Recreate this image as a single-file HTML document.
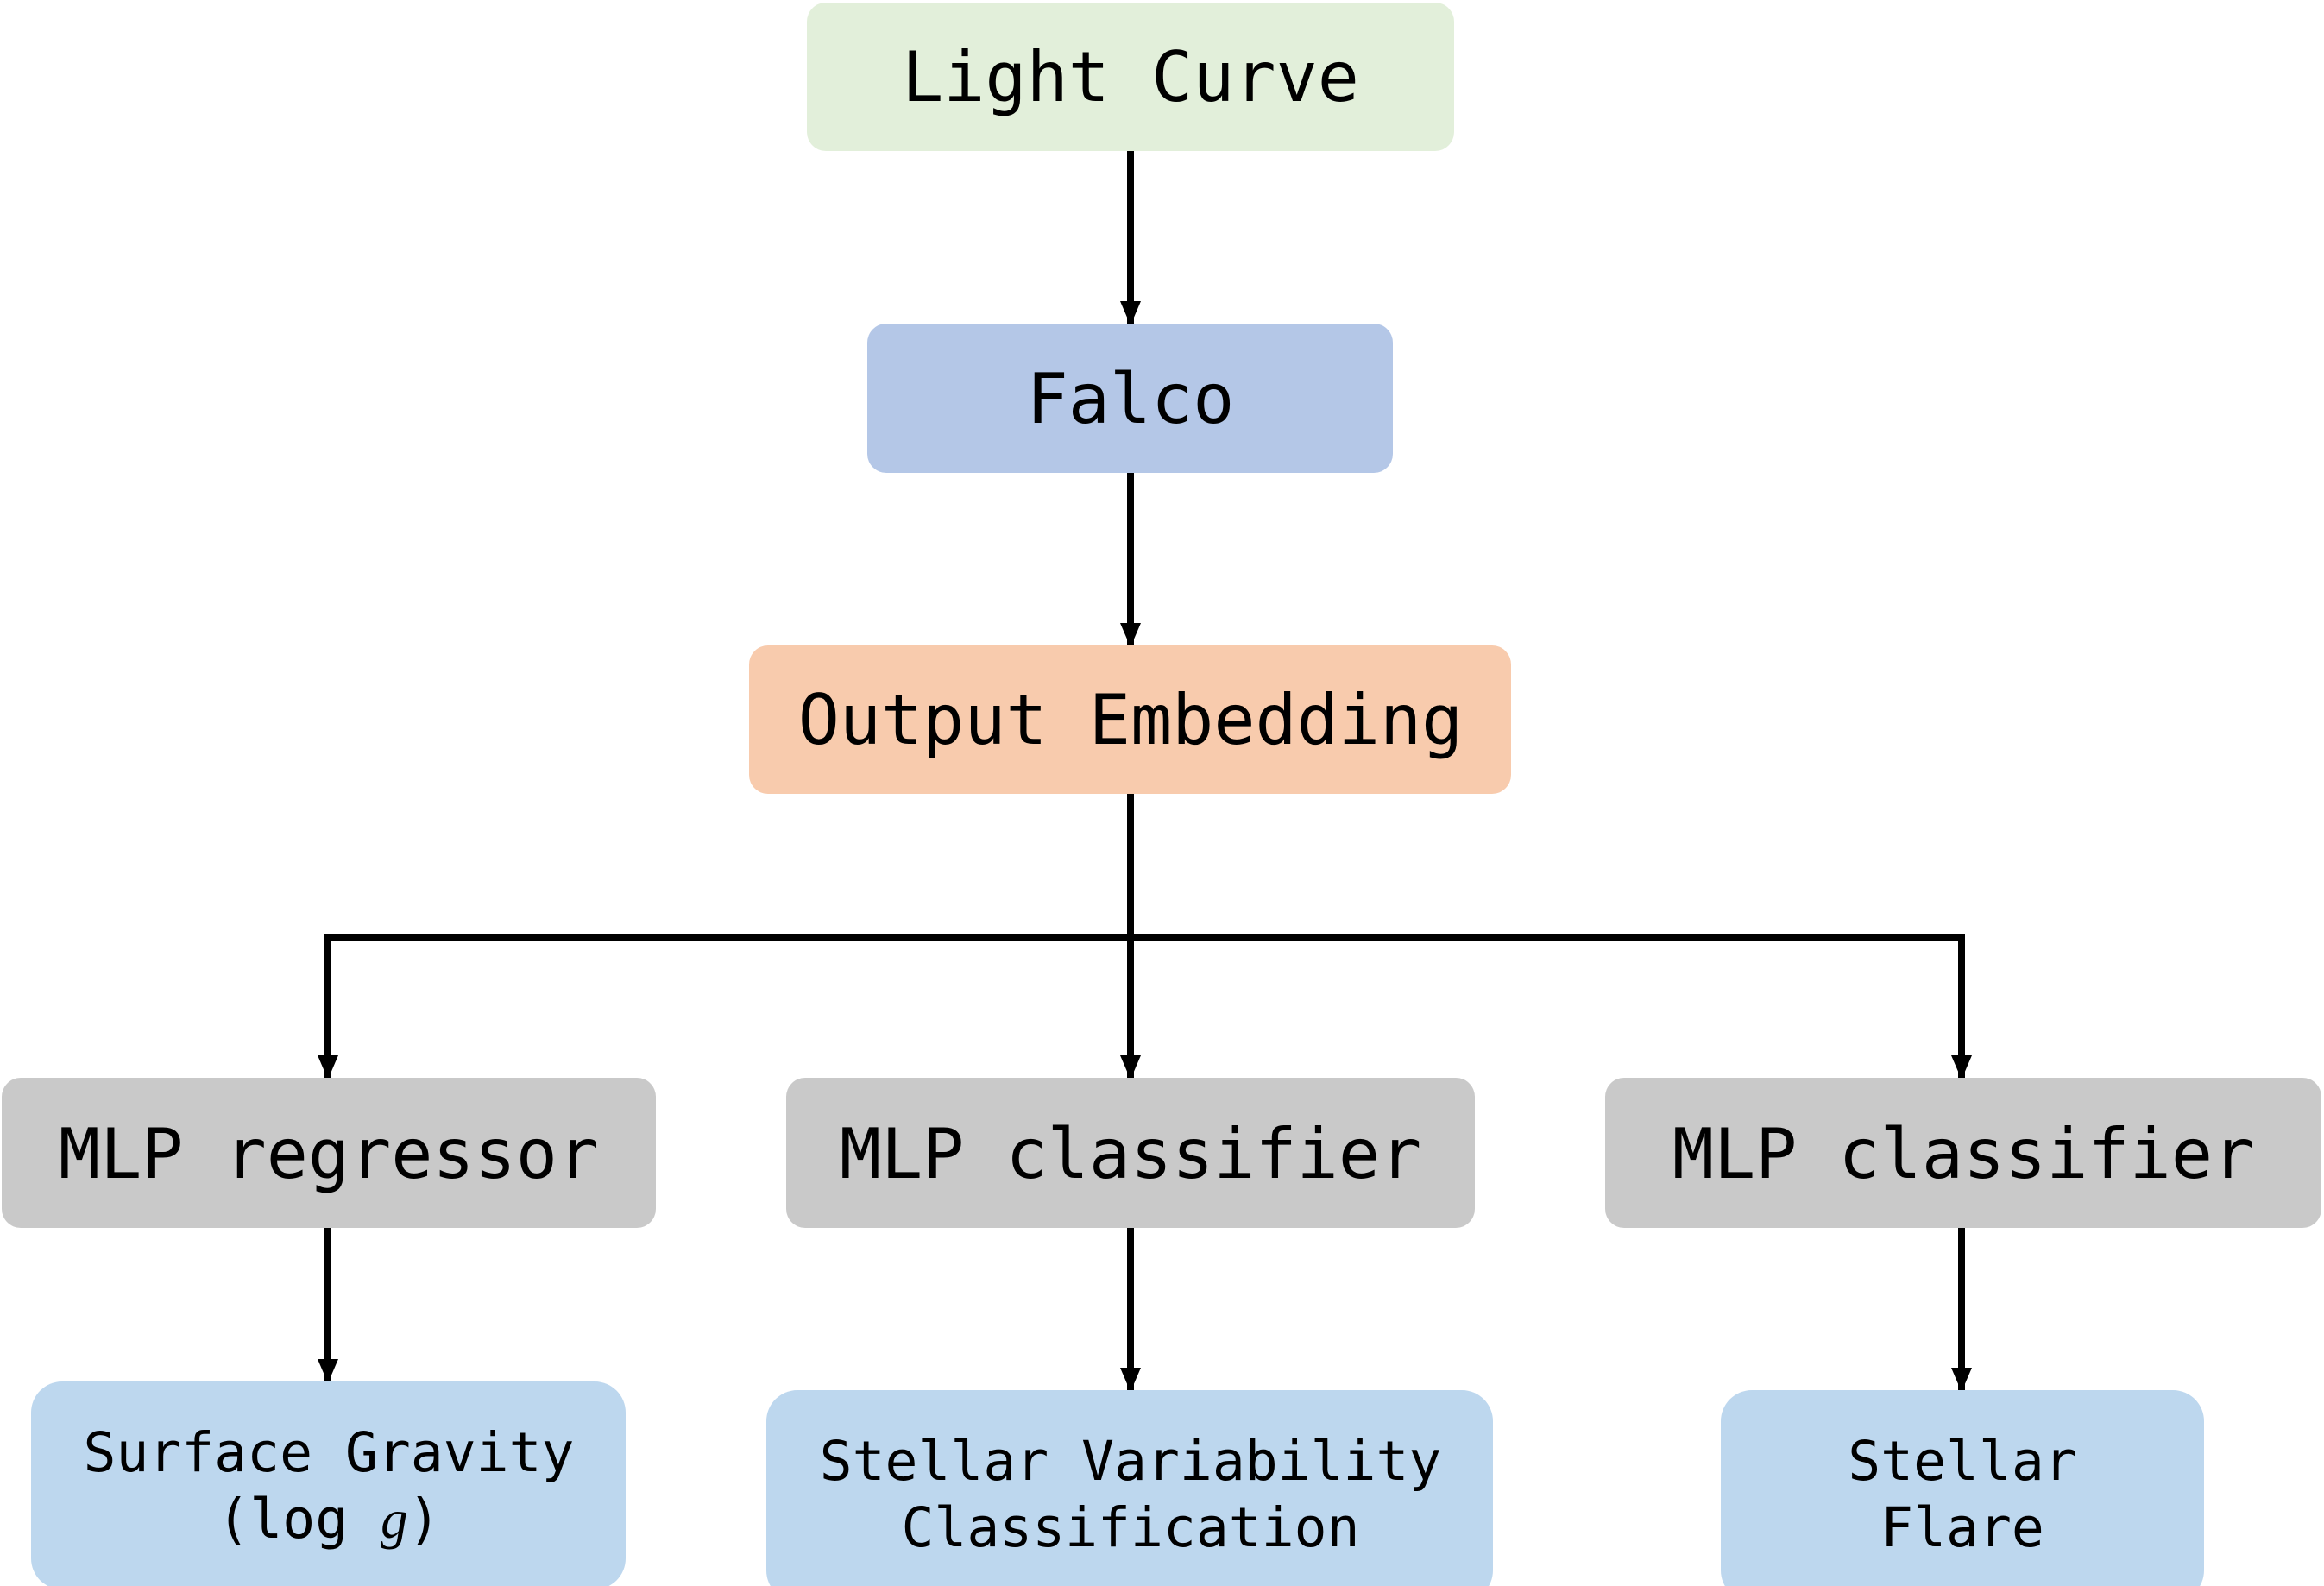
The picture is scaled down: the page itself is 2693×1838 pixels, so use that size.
<!DOCTYPE html>
<html><head><meta charset="utf-8"><style>
html,body{margin:0;padding:0;background:#fff;}
svg{display:block;}
text{font-family:"DejaVu Sans Mono","Liberation Mono",monospace;fill:#000;text-anchor:middle;}
</style></head><body>
<svg width="2693" height="1838" viewBox="0 0 2693 1838" xmlns="http://www.w3.org/2000/svg">
<defs>
<marker id="a" markerWidth="28" markerHeight="28" refX="26" refY="14" orient="auto" markerUnits="userSpaceOnUse">
<path d="M0,2 L28,14 L0,26 Z" fill="#000"/>
</marker>
</defs>
<g stroke="#000" stroke-width="8" fill="none">
<line x1="1310" y1="175" x2="1310" y2="375" marker-end="url(#a)"/>
<line x1="1310" y1="548" x2="1310" y2="748" marker-end="url(#a)"/>
<line x1="1310" y1="920" x2="1310" y2="1249" marker-end="url(#a)"/>
<polyline points="380,1249 380,1086 2273,1086 2273,1249" stroke-linejoin="miter"/>
<line x1="380" y1="1220" x2="380" y2="1249" marker-end="url(#a)"/>
<line x1="2273" y1="1220" x2="2273" y2="1249" marker-end="url(#a)"/>
<line x1="380" y1="1423" x2="380" y2="1601" marker-end="url(#a)"/>
<line x1="1310" y1="1423" x2="1310" y2="1611" marker-end="url(#a)"/>
<line x1="2273" y1="1423" x2="2273" y2="1611" marker-end="url(#a)"/>
</g>
<rect x="935" y="3" width="750" height="172" rx="22" fill="#e2efda"/>
<rect x="1005" y="375" width="609" height="173" rx="22" fill="#b4c7e7"/>
<rect x="868" y="748" width="883" height="172" rx="22" fill="#f8cbad"/>
<rect x="2" y="1249" width="758" height="174" rx="22" fill="#c9c9c9"/>
<rect x="911" y="1249" width="798" height="174" rx="22" fill="#c9c9c9"/>
<rect x="1860" y="1249" width="830" height="174" rx="22" fill="#c9c9c9"/>
<rect x="36" y="1601" width="689" height="241" rx="36" fill="#bdd7ee"/>
<rect x="888" y="1611" width="842" height="245" rx="36" fill="#bdd7ee"/>
<rect x="1994" y="1611" width="560" height="245" rx="36" fill="#bdd7ee"/>
<g font-size="80">
<text x="1310" y="117">Light Curve</text>
<text x="1310" y="490">Falco</text>
<text x="1310" y="862">Output Embedding</text>
<text x="381" y="1365">MLP regressor</text>
<text x="1310" y="1365">MLP classifier</text>
<text x="2275" y="1365">MLP classifier</text>
</g>
<g font-size="63">
<text x="381" y="1705">Surface Gravity</text>
<text x="381" y="1782">(log <tspan font-family="Liberation Serif" font-style="italic">g</tspan>)</text>
<text x="1310" y="1715">Stellar Variability</text>
<text x="1310" y="1792">Classification</text>
<text x="2274" y="1715">Stellar</text>
<text x="2274" y="1792">Flare</text>
</g>
</svg>
</body></html>
